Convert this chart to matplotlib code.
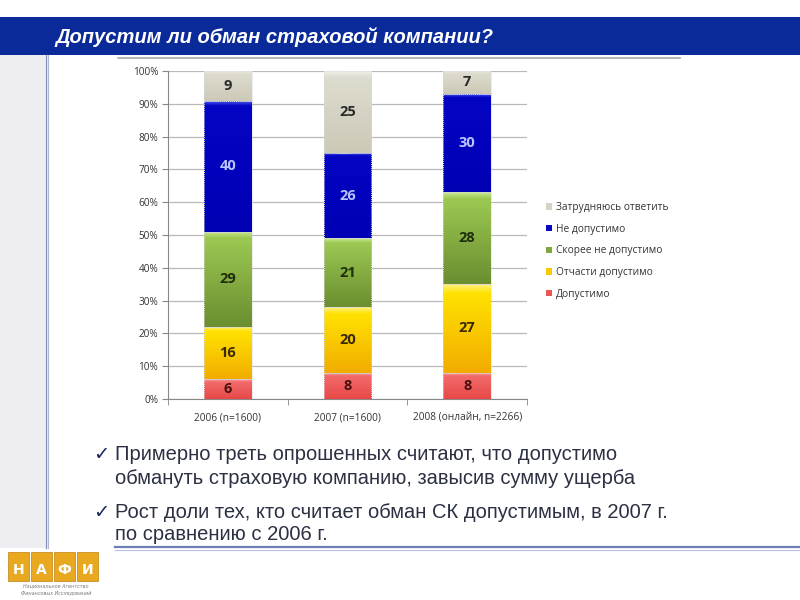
import matplotlib
matplotlib.use("Agg")
import matplotlib.pyplot as plt
import numpy as np
from matplotlib.patches import Rectangle
from matplotlib.lines import Line2D
from matplotlib.colors import LinearSegmentedColormap

# ---- data ----
categories = ["2006 (n=1600)", "2007 (n=1600)", "2008 (онлайн, n=2266)"]
series_names = ["Допустимо", "Отчасти допустимо", "Скорее не допустимо",
                "Не допустимо", "Затрудняюсь ответить"]
dopustimo = [6, 8, 8]
otchasti = [16, 20, 27]
skoree_ne = [29, 21, 28]
ne_dopustimo = [40, 26, 30]
zatrud = [9, 25, 7]
yticks = [0, 10, 20, 30, 40, 50, 60, 70, 80, 90, 100]
ytick_labels = ["0%", "10%", "20%", "30%", "40%", "50%", "60%", "70%", "80%", "90%", "100%"]

title = "Допустим ли обман страховой компании?"
bullets = [
    ["Примерно треть опрошенных считают, что допустимо",
     "обмануть страховую компанию, завысив сумму ущерба"],
    ["Рост доли тех, кто считает обман СК допустимым, в 2007 г.",
     "по сравнению с 2006 г."],
]

colors = ["#EC5555", "#F8C800", "#7FA83C", "#0808C0", "#D6D3C4"]
# gradient stops (bottom, upper, top highlight) and where the highlight begins
grads = [
    (["#E84848", "#F26A6A", "#F8A0A0"], 0.85),
    (["#F2AC00", "#FFE200", "#FFF080"], 0.90),
    (["#6A8E30", "#9CC852", "#C8E890"], 0.93),
    (["#0000B4", "#0404C4", "#5060F0"], 0.96),
    (["#CCC9B8", "#DEDCCE", "#F0EFE6"], 0.92),
]
label_colors = ["#4a1010", "#3a2a00", "#1f2e0c", "#B8C4FF", "#2a2a2a"]

W, H = 800, 600
fig = plt.figure(figsize=(8, 6), dpi=100)
fig.patch.set_facecolor("white")

def fx(x): return x / W
def fy(y): return 1 - y / H

# banner
fig.patches.append(Rectangle((0, fy(55)), 1, (55 - 17) / H, transform=fig.transFigure,
                             facecolor="#0A2A9A", edgecolor="none", zorder=0))
fig.text(fx(55), fy(37), title, color="white", fontsize=14.5, fontweight="bold",
         fontstyle="italic", family=["Liberation Sans Narrow", "Liberation Sans", "DejaVu Sans"],
         va="center", ha="left")
# line under banner
fig.lines.append(Line2D([fx(118), fx(680)], [fy(57.5), fy(57.5)], transform=fig.transFigure,
                        color="#A8A8A8", lw=1.2))
# left strip
fig.patches.append(Rectangle((0, fy(548)), fx(45), (548 - 55) / H, transform=fig.transFigure,
                             facecolor="#EDEDF2", edgecolor="none", zorder=0))
fig.lines.append(Line2D([fx(46), fx(46)], [fy(55), fy(548)], transform=fig.transFigure,
                        color="#7F8DB5", lw=1.0))
fig.lines.append(Line2D([fx(48), fx(48)], [fy(55), fy(548)], transform=fig.transFigure,
                        color="#B0B8D0", lw=0.8))
# bottom line
fig.lines.append(Line2D([fx(115), fx(800)], [fy(547), fy(547)], transform=fig.transFigure,
                        color="#6E7FB8", lw=1.6))
fig.lines.append(Line2D([fx(115), fx(800)], [fy(550), fy(550)], transform=fig.transFigure,
                        color="#B8C0DC", lw=0.8))

# logo
for i, ch in enumerate("НАФИ"):
    x0 = 8 + i * 23
    fig.patches.append(Rectangle((fx(x0), fy(581)), fx(21), 29 / H, transform=fig.transFigure,
                                 facecolor="#E8A820", edgecolor="#C08010", lw=0.5))
    fig.text(fx(x0 + 10.5), fy(570), ch, color="white", fontsize=10, fontweight="bold",
             ha="center", va="center")
fig.text(fx(56), fy(586), "Национальное Агентство", fontsize=3.5, color="#777777",
         style="italic", ha="center", va="center")
fig.text(fx(56), fy(593), "Финансовых Исследований", fontsize=3.5, color="#777777",
         style="italic", ha="center", va="center")

# bullets
tfam = ["Liberation Sans", "DejaVu Sans"]
ys = [[455, 479], [512, 535]]
for b, yy in zip(bullets, ys):
    fig.text(fx(93), fy(yy[0]), "✓", fontsize=14, color="#1F2A5A", ha="left", va="center",
             family=["DejaVu Sans"])
    for line, y in zip(b, yy):
        fig.text(fx(115), fy(y), line, fontsize=14.5, color="#2B3042", ha="left", va="center",
                 family=tfam)

# chart
ax = fig.add_axes([fx(168), fy(399), fx(527 - 168), (399 - 71) / H])
cfam = ["Open Sans", "DejaVu Sans"]
x = np.arange(len(categories))
data = [dopustimo, otchasti, skoree_ne, ne_dopustimo, zatrud]
bottom = np.zeros(len(categories))
grad_img = np.linspace(0, 1, 128).reshape(-1, 1)
for vals, c, (g, hs), lc, name in zip(data, colors, grads, label_colors, series_names):
    vals = np.array(vals, dtype=float)
    bars = ax.bar(x, vals, 0.4, bottom=bottom, color=c, edgecolor="none", lw=0,
                  zorder=3, label=name)
    cmap = LinearSegmentedColormap.from_list("g", [(0, g[0]), (hs, g[1]), (1.0, g[2])])
    for rect in bars:
        rx, ry = rect.get_x(), rect.get_y()
        rw, rh = rect.get_width(), rect.get_height()
        ax.imshow(grad_img, extent=[rx, rx + rw, ry, ry + rh], origin="lower",
                  aspect="auto", cmap=cmap, zorder=3.5, interpolation="bilinear")
        ax.add_patch(Rectangle((rx, ry), rw, rh, facecolor="none", edgecolor="#D8D8D8",
                               lw=0.7, ls=(0, (1, 1)), zorder=3.6))
    for xi, v, b0 in zip(x, vals, bottom):
        ax.text(xi, b0 + v / 2, f"{int(v)}", ha="center", va="center", color=lc,
                fontsize=10.5, fontweight="bold", family=cfam, zorder=4)
    bottom += vals

ax.set_xlim(-0.5, 2.5)
ax.set_ylim(0, 100)
ax.set_yticks(yticks)
ax.set_yticklabels(ytick_labels, fontsize=7.2, family=cfam, color="#333333")
ax.set_xticks(x)
ax.set_xticklabels(categories, fontsize=7.3, family=cfam, color="#333333")
ax.tick_params(axis="x", length=0, pad=9.5)
ax.set_xticks([-0.5, 0.5, 1.5, 2.5], minor=True)
ax.tick_params(axis="x", which="minor", length=4, color="#888888")
ax.tick_params(axis="y", length=4, color="#888888", pad=3)
ax.grid(axis="y", color="#B8B8B8", lw=0.9, zorder=0)
for s in ["top", "right"]:
    ax.spines[s].set_visible(False)
for s in ["left", "bottom"]:
    ax.spines[s].set_color("#888888")
ax.set_facecolor("white")

h, l = ax.get_legend_handles_labels()
leg = fig.legend(h[::-1], l[::-1], loc="upper left", bbox_to_anchor=(fx(537), fy(193)),
                 frameon=False, prop={"family": cfam, "size": 7.3},
                 handlelength=0.6, handleheight=0.6, handletextpad=0.4, labelspacing=1.05)
for t in leg.get_texts():
    t.set_color("#333333")

fig.savefig("out.png", dpi=100)
